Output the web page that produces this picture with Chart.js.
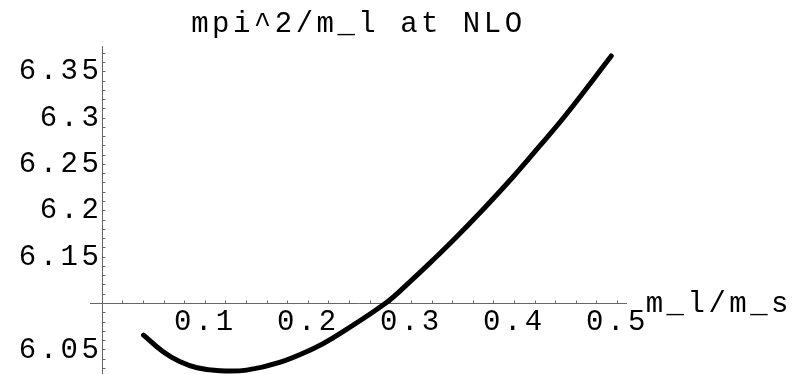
<!DOCTYPE html>
<html>
<head>
<meta charset="utf-8">
<title>mpi^2/m_l at NLO</title>
<script src="https://cdn.jsdelivr.net/npm/chart.js@4/dist/chart.umd.min.js"></script>
<style>
  html, body { margin: 0; padding: 0; background: #fff; }
  #plot { display: block; }
</style>
</head>
<body>
<canvas id="plot" width="806" height="374"></canvas>
<script>
// Curve: m_l/m_s against mpi^2/m_l
const xValues = [0.040, 0.059, 0.075, 0.092, 0.114, 0.140, 0.172, 0.205, 0.221,
                 0.2745, 0.299, 0.321, 0.343, 0.370, 0.399, 0.425, 0.451, 0.494];
const yValues = [6.066, 6.048, 6.0375, 6.0308, 6.0275, 6.0282, 6.0365, 6.0515, 6.061,
                 6.100, 6.124, 6.147, 6.171, 6.202, 6.237, 6.2705, 6.305, 6.367];

// Labelled ticks (the rest are unlabelled minor ticks)
const xTickLabels = ['0.1', '0.2', '0.3', '0.4', '0.5'];
const yTickLabels = ['6.05', '6.15', '6.2', '6.25', '6.3', '6.35'];

const TITLE = 'mpi^2/m_l at NLO';
const X_NAME = 'm_l/m_s';

const FONT_FAMILY = "'Liberation Mono', 'Courier New', monospace";
const AXIS_GREY = '#666';

// Mathematica puts wide gaps between the Courier glyphs
const spacingPlugin = {
  id: 'spacing',
  beforeLayout(chart) { chart.ctx.letterSpacing = '3.5px'; },
  beforeDraw(chart) { chart.ctx.letterSpacing = '3.5px'; },
};

// Axis name written at the right end of the horizontal axis
const axisNamePlugin = {
  id: 'axisName',
  afterDraw(chart) {
    const ctx = chart.ctx;
    const y = chart.scales.y.getPixelForValue(6.1);
    ctx.save();
    ctx.font = '29px ' + FONT_FAMILY;
    ctx.fillStyle = '#000';
    ctx.textAlign = 'left';
    ctx.textBaseline = 'alphabetic';
    ctx.fillText(X_NAME, chart.chartArea.right + 19, y + 8.5);
    ctx.restore();
  },
};

function labelFor(list, value) {
  const hit = list.find(l => Math.abs(Number(l) - value) < 1e-6);
  return hit || '';
}

// drop the extra end ticks Chart.js adds at min/max
function keepSteps(step) {
  return function (scale) {
    scale.ticks = scale.ticks.filter(t => {
      const k = t.value / step;
      return Math.abs(k - Math.round(k)) < 1e-6;
    });
  };
}

// axes sit inside the plot, so they should not shrink the chart area
function noPadding(scale) {
  scale.paddingTop = 0;
  scale.paddingBottom = 0;
  scale.paddingLeft = 0;
  scale.paddingRight = 0;
}

const points = xValues.map((x, i) => ({ x, y: yValues[i] }));

new Chart(document.getElementById('plot'), {
  type: 'line',
  data: {
    datasets: [{
      data: points,
      borderColor: '#000',
      borderWidth: 5,
      borderCapStyle: 'round',
      borderJoinStyle: 'round',
      tension: 0.4,
      pointRadius: 0,
      fill: false,
    }],
  },
  options: {
    responsive: false,
    animation: false,
    layout: { padding: { left: 90, right: 179.3, top: 0, bottom: 0 } },
    plugins: {
      legend: { display: false },
      tooltip: { enabled: false },
      title: {
        display: true,
        text: TITLE,
        fullSize: false,
        color: '#000',
        font: { family: FONT_FAMILY, size: 29, weight: 'normal' },
        padding: { top: 6.9, bottom: 5 },
      },
    },
    scales: {
      x: {
        type: 'linear',
        position: { y: 6.1 },
        min: -0.012,
        max: 0.509,
        afterBuildTicks: keepSteps(0.02),
        afterFit: noPadding,
        ticks: {
          stepSize: 0.02,
          includeBounds: false,
          autoSkip: false,
          maxRotation: 0,
          padding: 4.4,
          color: '#000',
          font: { family: FONT_FAMILY, size: 29 },
          callback: v => labelFor(xTickLabels, v),
        },
        grid: {
          drawOnChartArea: false,
          drawTicks: true,
          tickLength: -3.5,
          tickColor: AXIS_GREY,
          tickWidth: 1,
        },
        border: { display: true, color: AXIS_GREY, width: 1 },
      },
      y: {
        type: 'linear',
        position: { x: 0 },
        min: 6.024,
        max: 6.377,
        afterBuildTicks: keepSteps(0.01),
        afterFit: noPadding,
        ticks: {
          stepSize: 0.01,
          includeBounds: false,
          autoSkip: false,
          padding: 3.6,
          color: '#000',
          font: { family: FONT_FAMILY, size: 29 },
          callback: v => labelFor(yTickLabels, v),
        },
        grid: {
          drawOnChartArea: false,
          drawTicks: true,
          tickLength: -3.5,
          tickColor: AXIS_GREY,
          tickWidth: 1,
        },
        border: { display: true, color: AXIS_GREY, width: 1 },
      },
    },
  },
  plugins: [spacingPlugin, axisNamePlugin],
});
</script>
</body>
</html>
